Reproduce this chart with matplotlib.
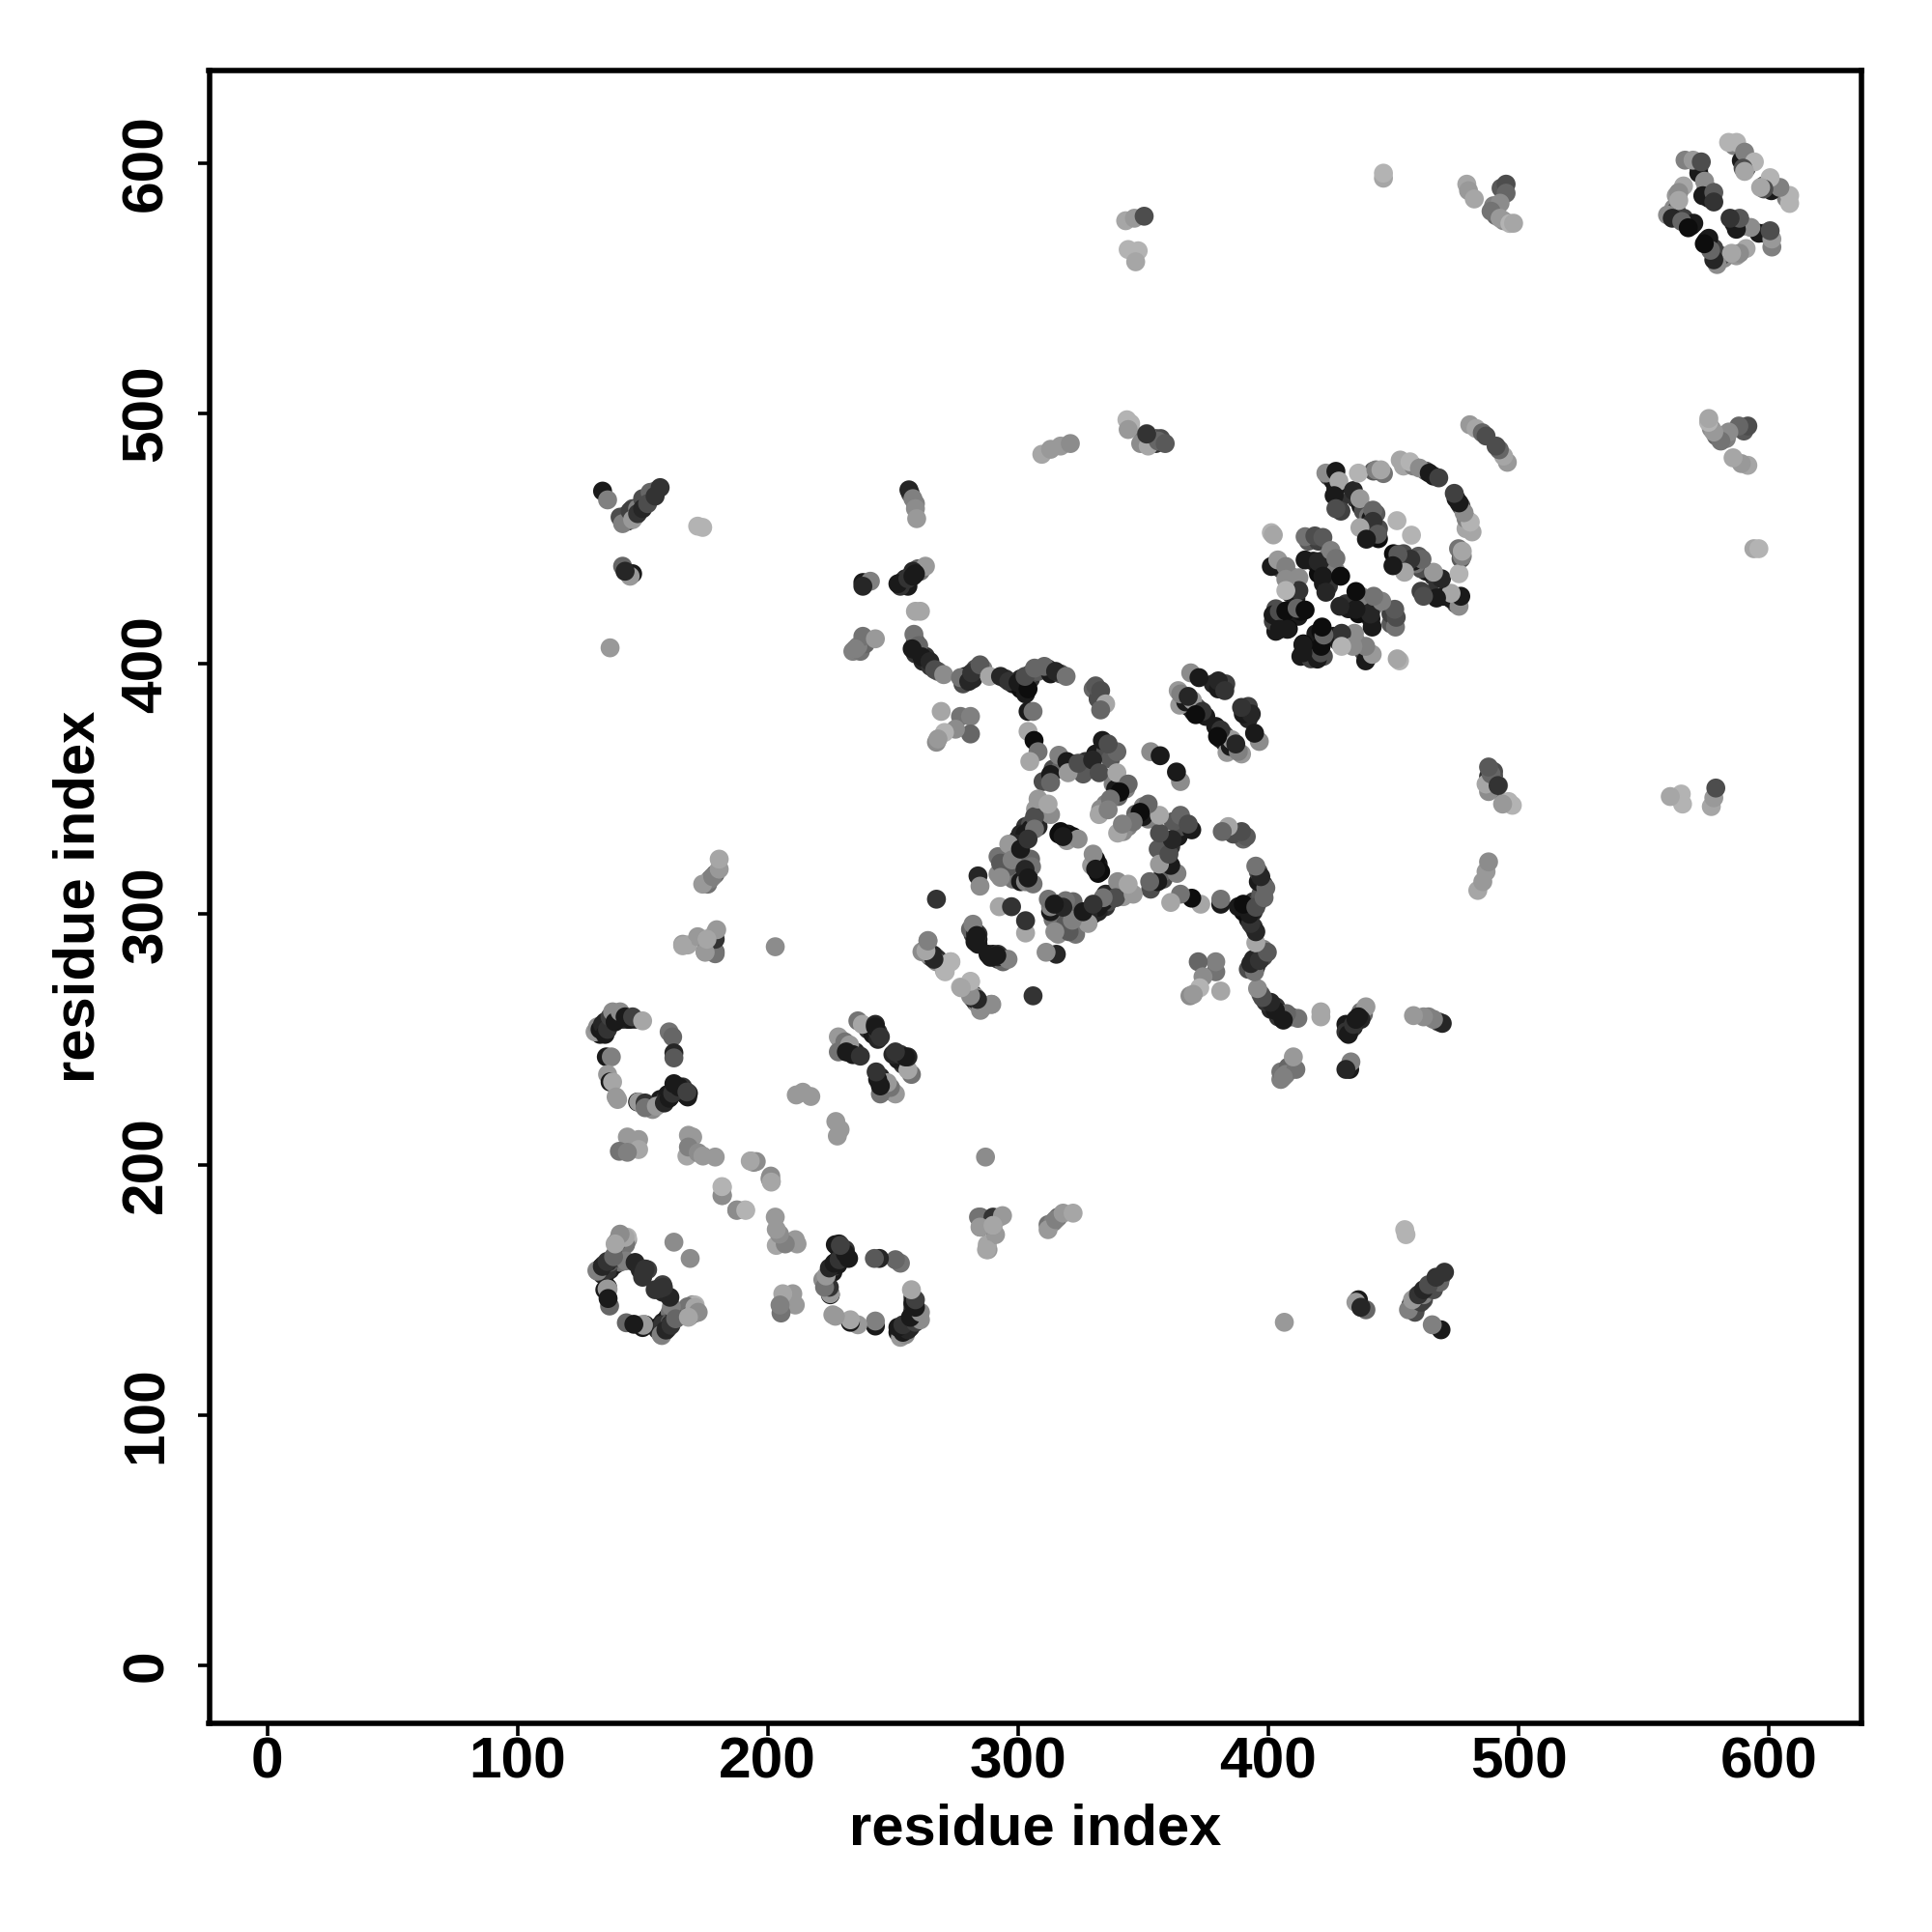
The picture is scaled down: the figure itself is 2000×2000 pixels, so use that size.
import matplotlib
matplotlib.use("Agg")
import matplotlib.pyplot as plt

# (residue i, residue j, grey level); the contact map is symmetric, each pair is drawn both ways
ring_a = [(131,253,.6),(132,255,.55),(133,254,.1),(134,256,.15),(135,257,.15),(135,252,.1),(136,254,.2),(137,259,.25),(138,261,.55),
 (139,257,.1),(141,261,.55),(143,259,.1),(145,258,.1),(146,259,.25),(150,257.4,.65),(160.6,253,.45),(162,251,.4),(162.5,244.6,.15),
 (162.5,242.6,.35),(135.5,243,.1),(137.5,243,.5),(136,236,.6),(137,233,.1),(138,233,.65),(139.4,227,.6),(148,225,.1),(148.4,225,.6),
 (151,224.6,.2),(151,222.7,.45),(155.5,223.3,.6),(158.7,224.6,.15),(160.6,226.5,.1),(162,228.5,.2),(162.5,232.3,.1),(164.5,231,.1),
 (168.3,228.5,.1),(167.7,229,.25)]
block_b = [(236,257.4,.45),(237.8,256,.65),(243,256,.15),(243,255,.1),(245,251,.2),(228.2,251,.6),(230.8,249,.45),(228.2,245,.45),
 (232.7,247.8,.6),(231.4,245,.1),(234,243.9,.1),(237,243.3,.2)]
near_diag = [(211.4,227.8,.6),(214,228.9,.6),(217.2,227.2,.6),(193.4,201.4,.65),(195.4,201.2,.55),(194.4,200.9,.55),(193,201.4,.65),
 (181.9,191,.7),(181.9,187.7,.55),(181.7,187.6,.55),(181.7,191.2,.7),(168.3,211.7,.6),(170,211,.6),(167.7,203.4,.65),(168.3,207,.5),
 (172.2,204.7,.55),(174.1,203.4,.6),(179,203,.6),(143.9,211,.6),(148.4,210,.6),(148.4,206,.65),(140.7,205.3,.45),(143.9,204.9,.5)]
ring_l = [(140.7,171,.6),(143.9,171,.7),(139.4,168.6,.55),(143.2,168,.45),(131.7,157.7,.55),(133.6,159,.1),(136,161,.15),(134.5,160,.3),
 (138.7,162.8,.2),(143.2,161.5,.5),(147,160.9,.15),(151,158.3,.2),(150.5,157,.2),(162.5,169,.55),(134.9,150,.1),(136.2,150.2,.6),
 (136.8,143.5,.4),(135.8,150.3,.6),(136.2,146.5,.1),(132,157.4,.5),(133.9,159.3,.15),(135.8,161.3,.2),(138.4,163.2,.4),(139.7,169,.35),
 (143,170.9,.65),(141,172.2,.55),(139,168.3,.65)]
far_left = [(134,469,.1),(136,465.5,.5),(141,458.6,.3),(142,456,.5),(145,461,.25),(148,462,.5),(150,466,.3),(153,468.5,.4),(157,470.4,.2),
 (146,457.6,.6),(142,439,.4),(146,436,.1),(145,435,.6),(137,406.4,.6),(172,455,.7),(174,454.5,.7),(174,312,.6),(178,315,.5),(180.6,318,.6),
 (180.6,322,.65),(166,288,.6),(168,287.7,.65),(172,291,.6),(175,285,.5),(179,285,.4),(179,292.6,.65),(203,287,.55),(175.7,290,.55),
 (178,287,.5),(166,287.4,.65),(179,284.2,.45),(179,290,.2),(179.6,293.8,.6),(175,284.8,.6),(175.7,290,.65)]
long_curve = [(236,407,.5),(238,411,.45),(243,410,.6),(235,406,.5),(238,432.5,.1),(241,433,.5),(254,433,.2),(257,435,.3),(260,438,.4),
 (263,439,.6),(252,432,.1),(256.4,469.5,.15),(258,466,.5),(259,462,.55),(259.5,458,.6),(259,421,.65),(261,421,.65),
 (258.4,411.8,.45),(260.3,407.3,.4),(257.7,406,.1),(261.6,402.8,.1),(264.8,400.9,.15),(266.7,397.7,.3),(270.3,395.7,.55),(277,394.5,.45),
 (280.3,393,.15),(281.5,396.4,.2),(284.8,399.6,.35),(288.6,395,.65),(293,395,.15),(296.3,393,.2),(300,392.5,.1),(304,390,.05),(302.8,395,.3),
 (306.6,398.3,.4),(310.5,399,.4),(315,397,.15),(319.2,395,.45),(331,391.2,.35),(333,389.3,.3),(335,384,.65),(333,381.6,.4)]
mid_upper = [(269.3,381,.65),(277,379,.45),(281,379,.5),(281,372,.4),(275,373.9,.55),(270.6,372.6,.7),(267.4,368.7,.55),(268,370,.6),
 (304,381,.1),(306,381,.45),(304,373,.65),(306.4,369.4,.05),(308,364.9,.45),(304.7,361,.65),(316.3,363.5,.5),(319.5,361,.1),(313,355.8,.1),
 (313,352.6,.4),(320,356.5,.6),(324,360.3,.3),(329.8,361.6,.15),(333.7,369.4,.1),(339.5,364.9,.4),(336,368,.3),(332.4,356.5,.3),
 (339.5,356.5,.65),(344,352,.4),(340.7,348.8,.05),(336.9,346,.45),(332.4,339.8,.65),(336,341.7,.5),(353,364.9,.55),(356.8,363.3,.1)]
block_380 = [(369,396.4,.55),(372.3,394.5,.1),(380,393.2,.15),(382.6,389.3,.2),(364,389.3,.6),(364.6,383.5,.6),(367,384.8,.1),(369.7,385.4,.6),
 (373.6,381,.2),(371,379.7,.05),(365,388,.5),(368,387,.15)]
ring_310 = [(310.5,343,.7),(313,339.8,.55),(306.6,339,.3),(302.8,332,.1),(299.6,328,.15),(306.6,334,.45),(296.3,328,.6),(293,320.4,.35),
 (297.6,321.7,.5),(293,314.7,.55),(316.3,332,.05),(319.5,329.4,.6),(324,330,.55),(318,331,.1),(305.4,319,.45),(302.8,317.9,.15),(306,312.1,.45),
 (304,314.5,.1),(301,326,.1),(304,330,.2),(284,315.3,.15),(284.8,311.2,.55),(267.4,306,.2),(292.5,303,.65),(297.4,303,.2),(282,296,.5),
 (283.5,291.5,.1),(282.8,289,.1),(264,289.5,.55),(261.6,285,.55),(266,283.8,.15),(267.4,281,.55),(273.2,281,.7),(270.6,277.3,.65),
 (277,270.9,.7),(281,273,.7),(282,266.4,.15),(285.4,263.2,.65),(289.3,264,.5),(308,346,.6),(312,344,.65)]
far_upper = [(309.5,483.7,.65),(313,485.7,.6),(317,487,.6),(320.9,488,.55),(343.5,497.5,.7),(344,493.6,.6),(351.4,492,.6),(352,487,.65),
 (356,489,.4),(358.8,488,.35),(351.4,491.8,.2),(343,577,.65),(346.5,578,.6),(350.4,578.8,.3),(344,565.5,.7),(348,565,.7),(347,560.6,.65),
 (446,594,.65),(446,596,.7),(479.3,591.6,.65),(480,589,.6),(482.3,585.7,.65),(495,591.6,.3),(495,588,.4),(492.6,584,.55),(489,580.8,.45),
 (492.6,578,.6),(496.5,575.9,.7),(498,576,.65),(480.5,495.5,.6),(483,494,.65),(485.5,492.3,.4),(487,491,.3)]
ring_455 = [(423,476.2,.55),(427,476.9,.1),(428.2,473,.65),(426.3,467.2,.1),(427,462,.3),(434,469.2,.15),(436.6,466,.6),(436,476.2,.7),
 (443,477.5,.5),(445,477.5,.65),(452.7,481.4,.65),(456.6,480.7,.7),(460.4,478.2,.55),(464.3,476.2,.1),(468.1,474.3,.25),(451.4,457.2,.7),
 (441.8,461.4,.4),(441.8,456.9,.2),(436.6,454.4,.65),(443.7,451.8,.35),(439.2,449.8,.1)]
block_420 = [(401.2,452.4,.7),(402,451.5,.65),(414.7,450.8,.45),(418.6,451.1,.3),(421.8,450.5,.35),(401.2,438.9,.1),(403.8,441.5,.6),
 (407,438.9,.5),(412.2,434.4,.55),(412.2,429.3,.2),(407,433.8,.55),(407,429.3,.7),(414.7,441.5,.1),(419.9,440.8,.15),(425,445.3,.5),
 (427,442.1,.45),(421.8,435,.1),(428.9,435,.05),(423,428.6,.15),(401.9,419.6,.1),(404.4,420.9,.3),(407,421.1,.05),(411.5,422.2,.4),
 (414.7,421.5,.05),(404.4,413.8,.1),(407.6,413.8,.1)]
block_585 = [(566.5,601.2,.5),(569.7,601.2,.6),(573,600.5,.3),(565.9,590.9,.65),(564,588.3,.55),(564,585.1,.65),(559.5,579.3,.55),
 (561.4,578,.15),(565.2,576.7,.4),(567.8,574.2,.05),(574.3,592.8,.55),(573.6,587,.1),(578,588.3,.35),(578,584.5,.2),(583.9,608.3,.7),
 (587.1,608.3,.7),(590.3,604.4,.5),(594.2,600.5,.7),(589.7,598,.3),(590.3,596.7,.65)]

# further overlapping contacts in the crowded patches, drawn underneath
dense_left = [(143,459,.2),(144,457,.15),(146,462,.3),(147,459,.4),(149,463,.2),(151,465,.45),(152,466,.3),(155,469,.4),(143,437,.45),
 (176,312,.45),(177,314,.5),(179,316,.4),(133,252,.1),(134,253,.15),(135,254,.25),(136,256,.1),(137,257,.15),(139,258,.5),(141,258,.2),
 (142,258,.25),(144,258,.15),(147,258,.25),(156,224,.45),(157,226,.1),(159,226,.2),(160,228,.1),(161,227,.15),(163,230,.25),(165,229,.1),
 (167,228,.15),(168,227,.1),(166,231,.2),(154,222,.55),(140,226,.6),(133,157,.2),(134,158,.15),(135,156,.1),(137,158,.15),(139,160,.1),
 (141,161,.45),(149,158,.15),(152,158,.25),(150,155,.2),(141,167,.5),(144,170,.55),(142,169,.6),(136,151,.1),(134,156,.15),(136,158,.2),
 (137,161,.35),(139,164,.45),(140,167,.55),(141,170,.6),(229,250,.3),(230,247,.15),(232,245,.1),(233,246,.2),(235,245,.15),(240,254,.2),
 (242,252,.1),(244,250,.15),(244,253,.2)]
dense_curve = [(234,405,.5),(237,405,.45),(239,408,.4),(255,434,.15),(256,431,.1),(258,436,.2),(259,437,.25),(261,437,.45),(253,431,.2),
 (257,468,.3),(259,464,.5),(259,409,.3),(259,404,.2),(260,405,.15),(262,401,.15),(263,403,.2),(265,399,.2),(268,397,.35),(278,392,.3),
 (279,395,.1),(282,394,.15),(283,398,.3),(286,398,.5),(295,394,.2),(298,392,.1),(301,394,.15),(303,391,.1),(305,394,.2),(305,396,.3),
 (308,397,.35),(312,398,.2),(313,396,.1),(317,396,.3),(301,390,.05),(303,388,.1),(330,390,.4),(332,386,.3)]
dense_mid = [(310,353,.3),(314,358,.3),(317,358,.4),(321,358,.5),(322,360,.2),(327,361,.2),(331,364,.1),(335,365,.3),(337,362,.35),(328,358,.2),
 (326,356,.35),(338,352,.5),(339,350,.1),(340,347,.4),(335,344,.5),(333,342,.55),(343,350,.5),(298,325,.2),(300,330,.1),(303,335,.2),
 (305,336,.3),(305,334,.1),(308,337,.4),(295,323,.45),(296,318,.5),(300,322,.4),(301,318,.3),(303,320,.15),(304,316,.1),(320,332,.1),
 (322,331,.05),(317,333,.05),(307,342,.6),(308,335,.15),(301,332,.15),(294,317,.3),(298,314,.45),(301,313,.1),(303,313,.5),(296,319,.35),
 (292,316,.55),(293,322,.4),(297,324,.3),(292,323,.45),(305,322,.4),(366,386,.15),(368,383,.1),(372,382,.15),(375,379,.1),(378,392,.15),
 (381,392,.1),(383,392,.25),(380,390,.1),(370,381,.1),(371,383,.3),(283,293,.1),(284,290,.1),(282,292,.25),(281,294,.4),(284,288,.1),
 (283,290,.2),(284,292,.2),(283,292,.15),(263,286,.3),(265,284,.1),(267,283,.55),(282,268,.2),(283,265,.3),(284,264,.55)]
dense_right = [(424,475,.3),(426,473,.1),(427,470,.1),(428,465,.2),(429,461,.25),(435,466,.2),(437,463,.1),(438,461,.3),(440,459,.45),
 (441,458,.1),(443,460,.35),(440,455,.3),(444,454,.3),(444,450,.05),(446,476,.45),(442,477,.35),(454,479,.65),(458,479,.5),(463,477,.3),
 (466,475,.1),(416,449,.35),(420,449,.25),(418,441,.1),(421,440,.3),(423,442,.45),(424,441,.1),(426,443,.4),(420,436,.05),(423,437,.15),
 (426,436,.15),(427,437,.5),(422,432,.1),(424,431,.2),(403,440,.1),(405,438,.3),(409,435,.5),(410,431,.15),(409,428,.2),(411,426,.1),
 (403,422,.3),(404,418,.1),(406,417,.1),(403,413,.1),(405,420,.1),(409,421,.15),(412,419,.1),(413,421,.05),(408,414,.05),(402,417,.25),
 (411,433,.1),(572,598,.4),(572,596,.1),(575,590,.2),(576,586,.1),(577,587,.25),(563,587,.6),(562,582,.55),(563,581,.3),(566,578,.25),
 (569,575,.05),(570,576,.1),(586,607,.5),(589,601,.1),(591,598,.2),(592,601,.35),(493,590,.35),(490,583,.5),(491,579,.4),(494,577,.55),
 (350,491,.4),(352,489,.3),(355,488,.2),(345,496,.7),(349,488,.55),(355,490,.3),(357,490,.3)]
dark_top = [(148,460,.2),(150,462,.15),(152,464,.3),(155,467,.2),(258,437,.15),(259,436,.1),(256,434,.2),(258,435,.1),(143,437,.15),(238,431,.15)]

tick_values = [0, 100, 200, 300, 400, 500, 600]
axis_title = "residue index"

regions = [dense_left, dense_curve, dense_mid, dense_right,
           ring_a, block_b, near_diag, ring_l, far_left, long_curve, mid_upper, block_380,
           ring_310, far_upper, ring_455, block_420, block_585, dark_top]

plt.rcParams['font.family'] = ['Liberation Sans', 'DejaVu Sans']
fig = plt.figure(figsize=(20, 20), dpi=100)
ax = fig.add_axes([216.5/2000, (2000-1784)/2000, 1710.5/2000, 1711/2000])

for region in regions:
    xs, ys, cs = [], [], []
    for i, j, g in region:
        xs.append(i); ys.append(j); cs.append(str(g))
    ax.scatter(xs, ys, s=200, c=cs, linewidths=0, zorder=2)
    ax.scatter(ys, xs, s=200, c=cs, linewidths=0, zorder=2)

ax.set_xlim(-23.2, 637.0)
ax.set_ylim(-23.2, 637.0)
ax.set_xticks(tick_values)
ax.set_yticks(tick_values)
ax.tick_params(length=9, width=2.6, labelsize=43.5)
ax.tick_params(axis='x', pad=1)
ax.tick_params(axis='y', pad=17.5)
for lab in ax.get_xticklabels():
    lab.set_fontweight('bold')
for lab in ax.get_yticklabels():
    lab.set_fontweight('bold')
    lab.set_rotation(90)
    lab.set_va('center')
for s in ax.spines.values():
    s.set_linewidth(4)
ax.set_xlabel(axis_title, fontsize=43, fontweight='bold', labelpad=10)
ax.set_ylabel(axis_title, fontsize=43, fontweight='bold', labelpad=11)
fig.savefig("out.png", dpi=100, facecolor='white')
